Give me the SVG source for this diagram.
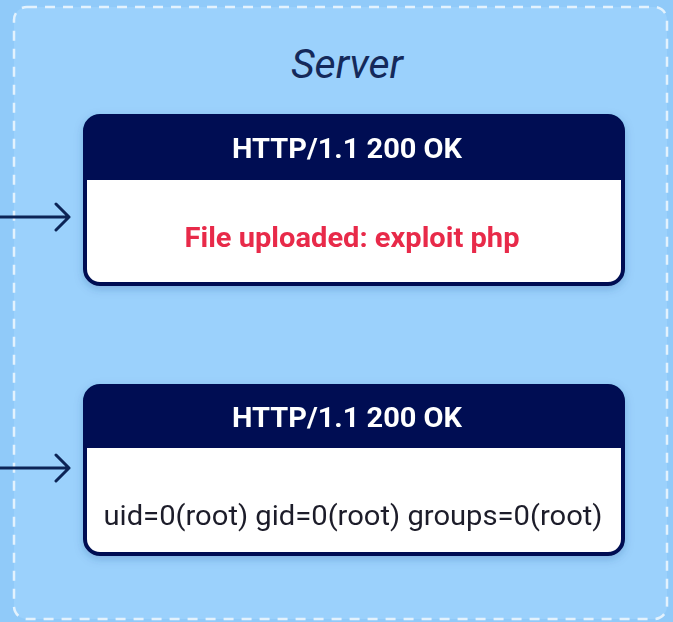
<svg xmlns="http://www.w3.org/2000/svg" width="673" height="622" viewBox="0 0 673 622">
  <style>
    .hdr { fill: #011152; }
    .frame { fill: #ffffff; stroke: #011152; stroke-width: 4; }
    .title { font-family: Roboto, "Liberation Sans", sans-serif; font-weight: 700; font-size: 28px; fill: #ffffff; text-anchor: middle; }
    .body-red { font-family: Roboto, "Liberation Sans", sans-serif; font-weight: 700; font-size: 28px; fill: #E8294A; text-anchor: middle; }
    .body-txt { font-family: Roboto, "Liberation Sans", sans-serif; font-size: 28px; fill: #1f1f2a; text-anchor: middle; }
    .conn { fill: none; stroke: #0c2456; stroke-width: 3; stroke-linecap: round; stroke-linejoin: round; }
  </style>
  <defs>
    <filter id="soft" x="-10%" y="-10%" width="120%" height="130%">
      <feDropShadow dx="0" dy="3" stdDeviation="4" flood-color="#1a4a8a" flood-opacity="0.25"/>
    </filter>
  </defs>

  <!-- backdrop -->
  <rect x="0" y="0" width="673" height="622" fill="#90caf9"/>

  <!-- server zone -->
  <g id="server">
    <rect x="14" y="7" width="653" height="612" rx="13" fill="#9bd1fc" stroke="#e3f2fd" stroke-width="2.5" stroke-dasharray="10 8"/>
    <text x="347" y="78" font-family="Roboto, 'Liberation Sans', sans-serif" font-style="italic" font-size="41" fill="#14295a" text-anchor="middle">Server</text>
  </g>

  <!-- connectors -->
  <g id="connectors">
    <path class="conn" d="M0 217 H69 M56 204 L69 217 L56 230"/>
    <path class="conn" d="M0 468 H69 M56 455 L69 468 L56 481"/>
  </g>

  <!-- upload response -->
  <g id="response-upload" filter="url(#soft)">
    <rect class="frame" x="85" y="116" width="538" height="168" rx="15"/>
    <path class="hdr" d="M85 180 V131 A15 15 0 0 1 100 116 H608 A15 15 0 0 1 623 131 V180 Z"/>
    <text class="title" x="347" y="158" textLength="230" lengthAdjust="spacingAndGlyphs">HTTP/1.1 200 OK</text>
    <text class="body-red" x="352" y="247" textLength="335" lengthAdjust="spacingAndGlyphs">File uploaded: exploit php</text>
  </g>

  <!-- command response -->
  <g id="response-id" filter="url(#soft)">
    <rect class="frame" x="85" y="386" width="538" height="168" rx="15"/>
    <path class="hdr" d="M85 448 V401 A15 15 0 0 1 100 386 H608 A15 15 0 0 1 623 401 V448 Z"/>
    <text class="title" x="347" y="427" textLength="230" lengthAdjust="spacingAndGlyphs">HTTP/1.1 200 OK</text>
    <text class="body-txt" x="353" y="525" textLength="499" lengthAdjust="spacingAndGlyphs">uid=0(root) gid=0(root) groups=0(root)</text>
  </g>
</svg>
